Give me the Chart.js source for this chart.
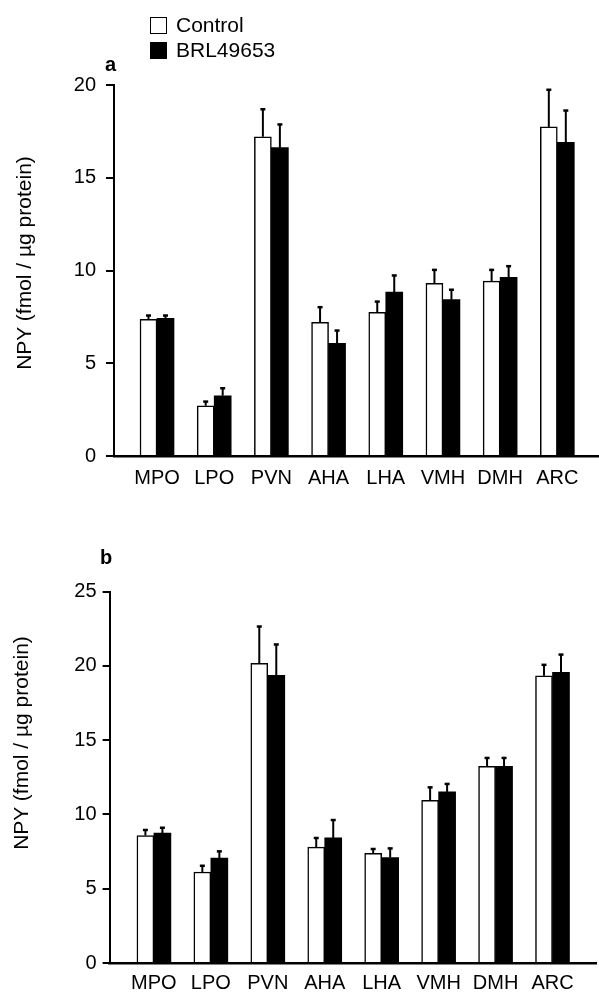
<!DOCTYPE html>
<html><head><meta charset="utf-8">
<script src="https://cdn.jsdelivr.net/npm/chart.js@4.4.1/dist/chart.umd.min.js"></script>
<style>
html,body{margin:0;padding:0;background:#fff;width:599px;height:992px;overflow:hidden;font-family:"Liberation Sans",Arial,sans-serif;}
#wrap{position:relative;width:599px;height:992px;}
canvas{position:absolute;left:0;}
.t{position:absolute;white-space:nowrap;color:#000;font-family:"Liberation Sans",Arial,sans-serif;}
.box{position:absolute;box-sizing:border-box;border:1.5px solid #000;}
.ytitle{font-size:21px;line-height:21px;transform:translate(-50%,-50%) rotate(-90deg);}
</style></head><body>
<div id="wrap">
<canvas id="ca" width="599" height="500" style="top:0"></canvas>
<canvas id="cb" width="599" height="492" style="top:500px"></canvas>
</div>
<script>
// ---- data ----
const regions = ['MPO', 'LPO', 'PVN', 'AHA', 'LHA', 'VMH', 'DMH', 'ARC'];
const seriesNames = ['Control', 'BRL49653'];
const yTitle = 'NPY (fmol / µg protein)';
const panelLetters = ['a', 'b'];

const controlA = [7.37, 2.71, 17.21, 7.21, 7.74, 9.31, 9.43, 17.74];
const controlSemA = [0.23, 0.25, 1.51, 0.84, 0.61, 0.75, 0.63, 2.03];
const brlA = [7.42, 3.25, 16.62, 6.07, 8.84, 8.43, 9.63, 16.91];
const brlSemA = [0.18, 0.43, 1.28, 0.72, 0.92, 0.56, 0.63, 1.74];

const controlB = [8.58, 6.13, 20.17, 7.80, 7.39, 10.96, 13.25, 19.34];
const controlSemB = [0.41, 0.45, 2.52, 0.65, 0.32, 0.90, 0.59, 0.77];
const brlB = [8.74, 7.06, 19.37, 8.42, 7.10, 11.52, 13.25, 19.57];
const brlSemB = [0.40, 0.49, 2.11, 1.24, 0.65, 0.57, 0.59, 1.23];

const yMaxA = 20, yMaxB = 25, yStep = 5;

// ---- drawing ----
const FONT = '"Liberation Sans", Arial, sans-serif';
Chart.defaults.font.family = FONT;
Chart.defaults.color = '#000';

const errorBars = {
  id: 'errorBars',
  afterDatasetsDraw(chart) {
    const ctx = chart.ctx;
    const ys = chart.scales.y;
    ctx.save();
    ctx.strokeStyle = '#000';
    chart.data.datasets.forEach((ds, i) => {
      const meta = chart.getDatasetMeta(i);
      meta.data.forEach((el, j) => {
        const top = ys.getPixelForValue(ds.data[j] + ds.sem[j]);
        const x = el.x;
        ctx.lineWidth = 2;
        ctx.beginPath();
        ctx.moveTo(x, el.y);
        ctx.lineTo(x, top);
        ctx.stroke();
        ctx.lineWidth = 2.5;
        ctx.beginPath();
        ctx.moveTo(x - 2.5, top + 0.5);
        ctx.lineTo(x + 2.5, top + 0.5);
        ctx.stroke();
      });
    });
    ctx.restore();
  }
};

function makeChart(id, p) {
  return new Chart(document.getElementById(id), {
    type: 'bar',
    data: {
      labels: regions,
      datasets: [
        { label: seriesNames[0], data: p.control, sem: p.controlSem,
          backgroundColor: '#fff', borderColor: '#000', borderWidth: 1.5, barThickness: 17 },
        { label: seriesNames[1], data: p.brl, sem: p.brlSem,
          backgroundColor: '#000', borderColor: '#000', borderWidth: 0, barThickness: 17 }
      ]
    },
    options: {
      responsive: false,
      animation: false,
      devicePixelRatio: 1,
      layout: { padding: { top: p.padTop, right: p.padRight, left: 0, bottom: 0 } },
      plugins: { legend: { display: false }, tooltip: { enabled: false }, title: { display: false } },
      scales: {
        x: {
          type: 'category',
          offset: false,
          grid: { display: false, drawTicks: false },
          border: { display: true, color: '#000', width: 2.5 },
          ticks: { font: { size: 20, family: FONT }, color: '#000', padding: p.xPad, maxRotation: 0, autoSkip: false },
          afterBuildTicks: (s) => { s._startValue = p.startValue; s._valueRange = p.valueRange; },
          afterFit: (s) => { s.height = p.xAxisH; }
        },
        y: {
          min: 0, max: p.yMax,
          grid: { display: true, drawOnChartArea: false, drawTicks: true, tickLength: p.tickLen, color: '#000', lineWidth: 2 },
          border: { display: true, color: '#000', width: 2 },
          ticks: { stepSize: yStep, font: { size: 20, family: FONT }, color: '#000', padding: p.yPad },
          afterFit: (s) => { s.width = p.yAxisW; }
        }
      }
    },
    plugins: [errorBars]
  });
}

makeChart('ca', {
  control: controlA, controlSem: controlSemA, brl: brlA, brlSem: brlSemA,
  yMax: yMaxA, padTop: 85, padRight: 0, yAxisW: 114, xAxisH: 44,
  startValue: -0.752, valueRange: 8.481, xPad: 10, tickLen: 8, yPad: 10
});
makeChart('cb', {
  control: controlB, controlSem: controlSemB, brl: brlB, brlSem: brlSemB,
  yMax: yMaxB, padTop: 91.7, padRight: 3, yAxisW: 109.6, xAxisH: 29,
  startValue: -0.778, valueRange: 8.542, xPad: 8, tickLen: 7, yPad: 6
});

// ---- HTML text: legend, panel letters, axis titles ----
const wrap = document.getElementById('wrap');
function addText(txt, css, cls) {
  const d = document.createElement('div');
  d.className = 't' + (cls ? ' ' + cls : '');
  d.textContent = txt;
  Object.assign(d.style, css);
  wrap.appendChild(d);
  return d;
}
function addBox(css) {
  const d = document.createElement('div');
  d.className = 'box';
  Object.assign(d.style, css);
  wrap.appendChild(d);
}
addBox({ left: '150px', top: '17px', width: '17px', height: '17px', background: '#fff' });
addBox({ left: '150px', top: '42px', width: '17px', height: '17px', background: '#000' });
addText(seriesNames[0], { left: '176px', top: '13px', fontSize: '21px', lineHeight: '24px' });
addText(seriesNames[1], { left: '176px', top: '38px', fontSize: '21px', lineHeight: '24px' });
addText(panelLetters[0], { left: '105px', top: '52px', fontSize: '20px', lineHeight: '24px', fontWeight: 'bold' });
addText(panelLetters[1], { left: '100px', top: '545px', fontSize: '20px', lineHeight: '24px', fontWeight: 'bold' });
addText(yTitle, { left: '22.7px', top: '262.5px' }, 'ytitle');
addText(yTitle, { left: '19.5px', top: '742.5px' }, 'ytitle');
</script>
</body></html>
